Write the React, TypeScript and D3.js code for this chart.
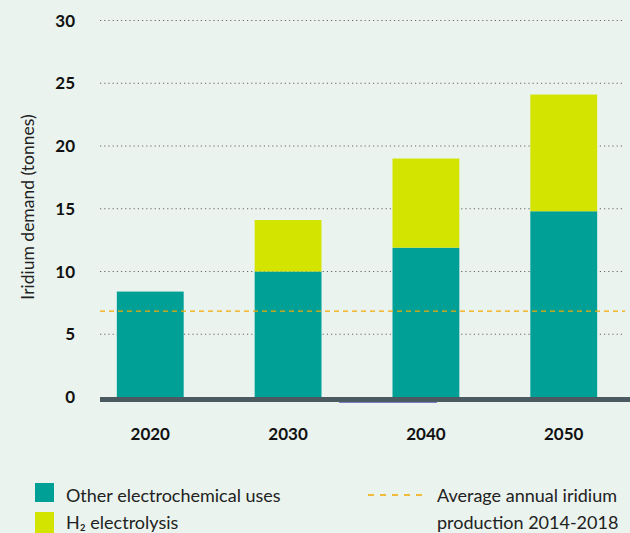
import React from "react";
import * as d3 from "d3";

const years = ["2020", "2030", "2040", "2050"];
const otherUses = [8.4, 10, 11.9, 14.8];
const h2Electrolysis = [0, 4.1, 7.1, 9.3];
const avgProduction = 6.85;
const yTicks = [0, 5, 10, 15, 20, 25, 30];

const W = 630;
const H = 533;
const FONT = "Lato, 'Open Sans', sans-serif";
const TEAL = "#00a096";
const LIME = "#d2e400";
const ORANGE = "#f5a800";

export default function App() {
  const y = d3.scaleLinear().domain([0, 30]).range([397, 20.5]);
  const x = d3.scaleBand().domain(years).range([81, 633]).paddingInner(0.515).paddingOuter(0.26);
  const stackData = years.map((yr, i) => ({ year: yr, other: otherUses[i], h2: h2Electrolysis[i] }));
  const series = d3.stack<any>().keys(["other", "h2"])(stackData);
  const colors = [TEAL, LIME];

  return (
    <svg width={W} height={H} style={{ position: "absolute", left: 0, top: 0, background: "#eaf3ee" }}>
      <rect x={0} y={0} width={W} height={H} fill="#eaf3ee" />
      {yTicks.filter((t) => t > 0).map((t) => (
        <line key={t} x1={100} x2={625} y1={y(t)} y2={y(t)} stroke="#666" strokeWidth={1} strokeDasharray="1.2 3" />
      ))}
      {yTicks.map((t) => (
        <text key={t} x={75} y={y(t)} dy="0.36em" textAnchor="end" fontFamily={FONT} fontWeight={700} fontSize={17} fill="#111">
          {t}
        </text>
      ))}
      {series.map((s, si) =>
        s.map((d, i) =>
          d[1] - d[0] > 0 ? (
            <rect key={si + "-" + i} x={x(years[i])} width={x.bandwidth()} y={y(d[1])} height={y(d[0]) - y(d[1])} fill={colors[si]} />
          ) : null
        )
      )}
      <line x1={100} x2={625} y1={y(avgProduction)} y2={y(avgProduction)} stroke={ORANGE} strokeWidth={1.3} strokeDasharray="5 4" />
      <rect x={100} y={397} width={530} height={5} fill="#4a5a60" />
      <line x1={339} x2={437} y1={402.5} y2={402.5} stroke="#7a7fc0" strokeWidth={1} />
      {years.map((yr) => (
        <text key={yr} x={(x(yr) as number) + x.bandwidth() / 2} y={434} dy="0.36em" textAnchor="middle" fontFamily={FONT} fontWeight={700} fontSize={17} fill="#111">
          {yr}
        </text>
      ))}
      <text transform="translate(28,207) rotate(-90)" textAnchor="middle" dy="0.35em" fontFamily={FONT} fontSize={17.5} fill="#222">
        Iridium demand (tonnes)
      </text>
      <rect x={35} y={483} width={19} height={19} fill={TEAL} />
      <rect x={35} y={512} width={19} height={21} fill={LIME} />
      <text x={66} y={502} fontFamily={FONT} fontSize={18} fill="#222">Other electrochemical uses</text>
      <text x={66} y={529} fontFamily={FONT} fontSize={18} fill="#222">H₂ electrolysis</text>
      <line x1={368} x2={422} y1={495} y2={495} stroke={ORANGE} strokeWidth={1.3} strokeDasharray="6 6" />
      <text x={437} y={502} fontFamily={FONT} fontSize={18} fill="#222">Average annual iridium</text>
      <text x={437} y={529} fontFamily={FONT} fontSize={18} fill="#222">production 2014-2018</text>
    </svg>
  );
}
